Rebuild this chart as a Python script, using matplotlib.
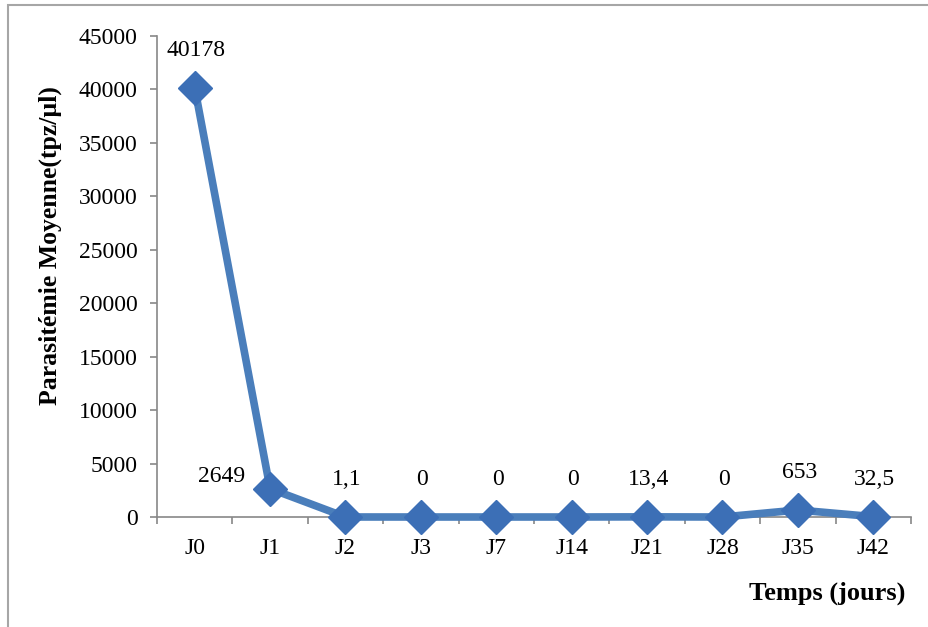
import matplotlib
matplotlib.use("Agg")
import matplotlib.pyplot as plt
from matplotlib.patches import Rectangle

# --- Donnees ---
jours = ["J0", "J1", "J2", "J3", "J7", "J14", "J21", "J28", "J35", "J42"]
parasitemie = [40178, 2649, 1.1, 0, 0, 0, 13.4, 0, 653, 32.5]
etiquettes = ["40178", "2649", "1,1", "0", "0", "0", "13,4", "0", "653", "32,5"]

plt.rcParams["font.family"] = ["Liberation Serif", "DejaVu Serif"]

fig = plt.figure(figsize=(9.29, 6.27), dpi=100)
ax = fig.add_axes([157 / 929, 1 - 517 / 627, 754 / 929, 481 / 627])

# cadre gris autour du graphique
fig.patches.append(Rectangle((8 / 929, -0.1), 1.2, 1 - 5 / 627 + 0.1,
                             transform=fig.transFigure, fill=False,
                             edgecolor="#a6a6a6", linewidth=1.5))

x = list(range(len(jours)))
ax.plot(x, parasitemie, color="#4a7ebb", linewidth=5.5, marker="D",
        markersize=17, markerfacecolor="#3c6fb6", markeredgecolor="#3c6fb6",
        zorder=3, clip_on=False)

# etiquettes de valeurs
for i, (v, txt) in enumerate(zip(parasitemie, etiquettes)):
    if i == 1:
        ax.annotate(txt, (i, v), xytext=(-35, 9), textcoords="offset points",
                    ha="center", va="center", fontsize=17)
    else:
        ax.annotate(txt, (i, v), xytext=(1, 27), textcoords="offset points",
                    ha="center", va="center", fontsize=17)

ax.set_xlim(-0.5, len(jours) - 0.5)
ax.set_ylim(0, 45000)
ax.set_yticks(range(0, 45001, 5000))
ax.set_xticks(x)
ax.set_xticklabels(jours)
ax.set_xticks([i - 0.5 for i in range(len(jours) + 1)], minor=True)
ax.tick_params(axis="x", which="major", length=0, pad=15, labelsize=17)
ax.tick_params(axis="x", which="minor", length=5, color="#888888", width=1.2)
ax.tick_params(axis="y", length=5, color="#888888", width=1.2, pad=9, labelsize=17)

for s in ["top", "right"]:
    ax.spines[s].set_visible(False)
for s in ["left", "bottom"]:
    ax.spines[s].set_color("#888888")
    ax.spines[s].set_linewidth(1.2)

fig.text(50 / 929, 1 - 246 / 627, "Parasitémie Moyenne(tpz/µl)", rotation=90,
         ha="center", va="center", fontsize=18.5, fontweight="bold")
fig.text(905 / 929, 1 - 593 / 627, "Temps (jours)", ha="right", va="center",
         fontsize=19, fontweight="bold")

fig.savefig("out.png", dpi=100)
